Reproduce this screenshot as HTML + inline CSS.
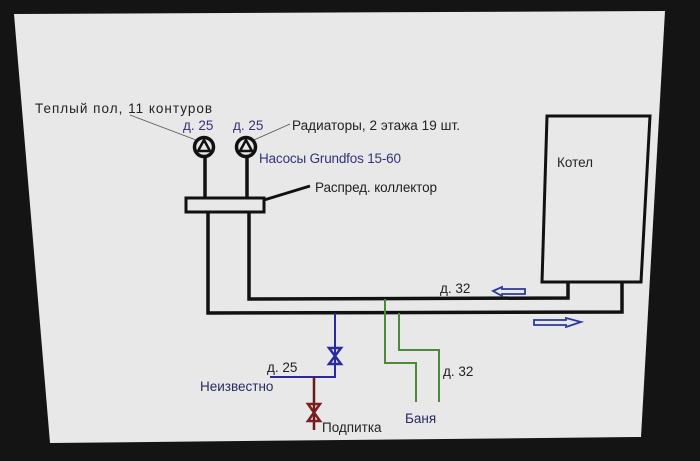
<!DOCTYPE html>
<html><head><meta charset="utf-8"><style>
html,body{margin:0;padding:0;background:#141414;}
svg{display:block}
text{font-family:"Liberation Sans","DejaVu Sans",sans-serif;font-size:13.5px;fill:#222}
</style></head><body>
<svg width="700" height="461" viewBox="0 0 700 461" xmlns="http://www.w3.org/2000/svg">
<rect width="700" height="461" fill="#141414"/>
<polygon points="14,14 665,11 641,437 50,443" fill="#e8e8e8"/>
<line x1="130" y1="115" x2="196" y2="140" stroke="#555" stroke-width="0.8"/>
<line x1="254" y1="140" x2="290" y2="124" stroke="#555" stroke-width="0.8"/>
<g stroke="#111" stroke-width="3.5" fill="none">
<circle cx="204" cy="147" r="9.5"/>
<circle cx="246" cy="147" r="9.5"/>
</g>
<polygon points="204,140 198,151 210,151" fill="none" stroke="#111" stroke-width="2.5"/>
<polygon points="246,140 240,151 252,151" fill="none" stroke="#111" stroke-width="2.5"/>
<g stroke="#111" stroke-width="3.5" fill="none">
<line x1="205" y1="157" x2="205" y2="198"/>
<line x1="247" y1="157" x2="247" y2="198"/>
<rect x="186" y="198" width="78" height="14" stroke-width="3"/>
<line x1="264" y1="200" x2="310" y2="186" stroke-width="3"/>
<polyline points="208,212 208,313 622,312 622,282"/>
<polyline points="249,212 249,299 568,298 568,282"/>
<polygon points="547,116 650,116 641,282 542,282" stroke-width="3"/>
</g>
<polygon points="493,291 502,287 502,289 525,289 525,294 502,294 502,296" fill="none" stroke="#2a3a9a" stroke-width="1.8"/>
<polygon points="581,322 566,318 566,320 534,320 534,325 566,325 566,327" fill="none" stroke="#2a3a9a" stroke-width="1.8"/>
<polyline points="335,313 335,377 270,377" stroke="#2a2aa0" stroke-width="2" fill="none"/>
<polygon points="329,348 341,348 329,364 341,364" fill="none" stroke="#2a2aa0" stroke-width="2.5"/>
<line x1="314" y1="377" x2="314" y2="430" stroke="#6a1a1a" stroke-width="2.5"/>
<polygon points="308,404 320,404 308,421 320,421" fill="none" stroke="#7a1e1e" stroke-width="2.5"/>
<g stroke="#4a8a3a" stroke-width="2" fill="none">
<polyline points="385,299 385,363 416,363 416,402"/>
<polyline points="399,313 399,350 439,350 439,402"/>
</g>
<text x="35" y="113" textLength="177">Теплый пол, 11 контуров</text>
<text x="183" y="130" style="fill:#33337a">д. 25</text>
<text x="233" y="130" style="fill:#33337a">д. 25</text>
<text x="292" y="130" textLength="168">Радиаторы, 2 этажа 19 шт.</text>
<text x="259" y="163" style="fill:#33337a" textLength="142">Насосы Grundfos 15-60</text>
<text x="315" y="192" textLength="122">Распред. коллектор</text>
<text x="557" y="167">Котел</text>
<text x="440" y="293">д. 32</text>
<text x="267" y="372">д. 25</text>
<text x="200" y="391" style="fill:#2a2a60">Неизвестно</text>
<text x="322" y="432">Подпитка</text>
<text x="443" y="376">д. 32</text>
<text x="405" y="423" style="fill:#2a2a60">Баня</text>
</svg>
</body></html>
